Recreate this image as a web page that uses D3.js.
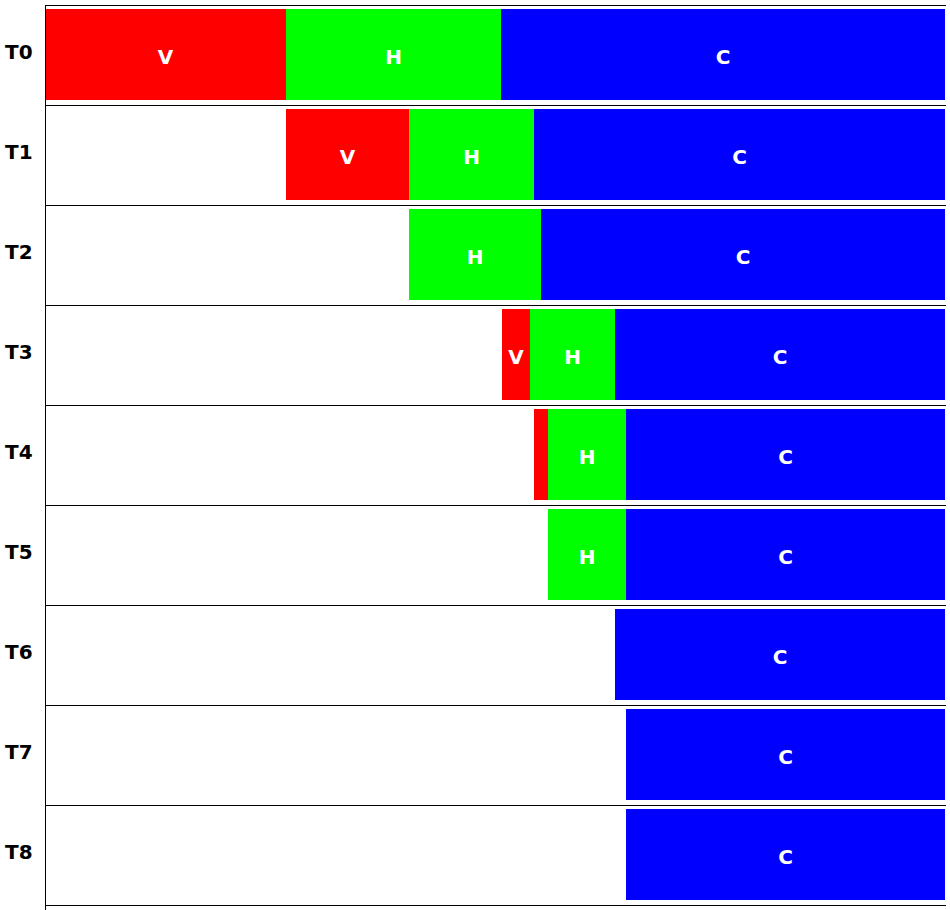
<!DOCTYPE html>
<html><head><meta charset="utf-8">
<script src="https://cdn.jsdelivr.net/npm/d3@7"></script>
<style>body{margin:0;background:#fff;} svg{display:block;}</style>
</head><body>
<svg id="chart" width="950" height="910"></svg>
<script>
const rows = ["T0","T1","T2","T3","T4","T5","T6","T7","T8"];
const phases = ["V","H","C"];
const phaseColors = ["#ff0000","#00ff00","#0000ff"];
const vSpans = [[0,241],[241,364],null,[457,485],[489,503],null,null,null,null];
const hSpans = [[241,456],[364,489],[364,496],[485,570],[503,581],[503,581],null,null,null];
const cSpans = [[456,900],[489,900],[496,900],[570,900],[581,900],[581,900],[570,900],[581,900],[581,900]];
const spans = [vSpans, hSpans, cSpans];

const svg = d3.select("#chart");
const x = d3.scaleLinear().domain([0,900]).range([45,945]);
const y = d3.scaleBand().domain(rows).range([5,905]).paddingInner(0).paddingOuter(0);
const bw = y.bandwidth();
const font = "'DejaVu Sans', sans-serif";

const segs = [];
rows.forEach((r,i)=>{
  phases.forEach((p,j)=>{
    const s = spans[j][i];
    if (s) segs.push({row:r, phase:p, color:phaseColors[j], x0:s[0], x1:s[1]});
  });
});

svg.selectAll("rect.seg").data(segs).join("rect")
  .attr("class","seg")
  .attr("x", d=>x(d.x0))
  .attr("width", d=>x(d.x1)-x(d.x0))
  .attr("y", d=>y(d.row)+4)
  .attr("height", bw*0.91)
  .attr("fill", d=>d.color);

svg.selectAll("text.seg").data(segs.filter(d=>x(d.x1)-x(d.x0)>20)).join("text")
  .attr("class","seg")
  .attr("x", d=>(x(d.x0)+x(d.x1))/2)
  .attr("y", d=>y(d.row)+58.5)
  .attr("text-anchor","middle")
  .attr("font-family",font).attr("font-weight","bold").attr("font-size",20)
  .attr("fill","#fff")
  .text(d=>d.phase);

// row separators
const bounds = rows.map(r=>y(r)).concat([y(rows[rows.length-1])+bw]);
svg.selectAll("line.sep").data(bounds).join("line")
  .attr("class","sep")
  .attr("x1",45).attr("x2",946)
  .attr("y1",d=>Math.round(d)+0.5).attr("y2",d=>Math.round(d)+0.5)
  .attr("stroke","#000").attr("stroke-width",1);

// left axis line
svg.append("line").attr("x1",45.5).attr("x2",45.5).attr("y1",5).attr("y2",910)
  .attr("stroke","#000").attr("stroke-width",1);

// row labels
svg.selectAll("text.row").data(rows).join("text")
  .attr("class","row")
  .attr("x",5)
  .attr("y",d=>y(d)+53.5)
  .attr("font-family",font).attr("font-weight","bold").attr("font-size",20)
  .attr("fill","#000")
  .text(d=>d);
</script>
</body></html>
